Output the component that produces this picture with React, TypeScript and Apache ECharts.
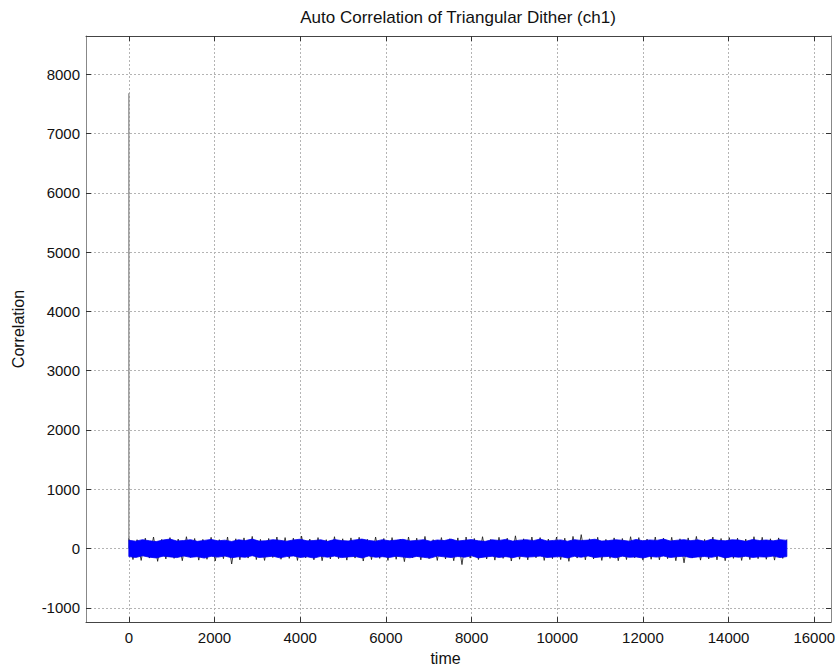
import React, { useEffect, useRef } from "react";
import * as echarts from "echarts";

const titleText = "Auto Correlation of Triangular Dither (ch1)";
const xName = "time";
const yName = "Correlation";
const xTicks = [0, 2000, 4000, 6000, 8000, 10000, 12000, 14000, 16000];
const yTicks = [-1000, 0, 1000, 2000, 3000, 4000, 5000, 6000, 7000, 8000];
const xRange = [-1000, 16390];
const yRange = [-1240, 8645];

// lag-0 peak of the autocorrelation
const peakLags = [0, 0];
const peakValues = [0, 7680];

// envelope of the blue noise band, one value every envelopeStep lags
const envelopeStep = 160;
const blueUpper = [
  140, 125, 150, 132, 118, 145, 160, 128, 136, 150, 122, 138, 155, 130, 142, 120, 148, 135, 160, 126,
  132, 150, 140, 124, 145, 158, 130, 136, 148, 122, 152, 135, 128, 146, 160, 138, 125, 150, 132, 143,
  156, 129, 138, 150, 124, 145, 135, 160, 128, 140, 152, 131, 122, 148, 137, 155, 126, 142, 150, 134,
  160, 129, 138, 146, 124, 151, 136, 143, 158, 127, 135, 149, 140, 125, 154, 132, 145, 138, 160, 128,
  141, 150, 134, 147, 125, 156, 139, 131, 148, 143, 122, 153, 136, 145, 130, 150, 138,
];
const blueLower = [
  -135, -150, -122, -145, -158, -128, -140, -152, -125, -148, -136, -160, -130, -144, -126, -155, -138, -147, -120, -150,
  -142, -128, -156, -135, -124, -149, -138, -160, -131, -145, -127, -152, -140, -133, -158, -125, -146, -137, -150, -129,
  -143, -155, -132, -148, -160, -126, -139, -151, -134, -145, -122, -157, -141, -130, -149, -136, -153, -128, -144, -138,
  -127, -150, -142, -135, -158, -131, -146, -124, -152, -139, -133, -155, -128, -147, -140, -160, -132, -144, -126, -151,
  -137, -129, -154, -141, -134, -148, -125, -157, -136, -145, -130, -150, -139, -143, -127, -152, -135,
];

// black trace behind the blue band, one value every blackStep lags
const blackStep = 96;
const blackTrace = [
  170, -185, 150, -200, 175, -160, 195, -215, 155, -175, 185, -165, 160, -205, 200, -150, 170, -195, 155, -180,
  190, -210, 150, -170, 195, -260, 165, -190, 180, -160, 205, -185, 155, -200, 170, -150, 195, -180, 185, -165,
  175, -200, 210, -155, 160, -190, 185, -205, 150, -175, 200, -170, 165, -195, 180, -160, 190, -210, 155, -185,
  195, -165, 170, -200, 185, -180, 160, -220, 195, -155, 175, -190, 205, -170, 150, -200, 185, -175, 165, -205,
  180, -270, 195, -160, 170, -185, 200, -175, 155, -195, 190, -165, 175, -210, 215, -180, 165, -190, 195, -155,
  185, -200, 160, -170, 195, -185, 175, -215, 205, -160, 235, -190, 165, -175, 190, -200, 155, -165, 180, -205,
  170, -185, 200, -155, 185, -195, 160, -180, 195, -190, 175, -170, 190, -205, 165, -240, 180, -160, 205, -195,
  155, -175, 195, -190, 170, -205, 185, -165, 175, -200, 160, -185, 200, -170, 190, -180, 165, -195, 180, -165,
  155,
];

const FONT = "'Liberation Sans', Arial, Helvetica, sans-serif";
const plain = (v: number) => String(v);

export default function App() {
  const ref = useRef<HTMLDivElement>(null);
  useEffect(() => {
    if (!ref.current) return;
    const chart = echarts.init(ref.current, undefined, { renderer: "svg" });

    const upperPts = blueUpper.map((v, i) => [i * envelopeStep, v]);
    const lowerPts = blueLower.map((v, i) => [i * envelopeStep, v]);
    const blackPts = blackTrace.map((v, i) => [i * blackStep, v]);
    const peakPts = peakLags.map((x, i) => [x, peakValues[i]]);

    const xAxisBase = {
      type: "value" as const,
      min: xRange[0],
      max: xRange[1],
      splitNumber: 8,
    };
    const yAxisBase = {
      type: "value" as const,
      min: yRange[0],
      max: yRange[1],
      splitNumber: 10,
    };
    const gridLine = { show: true, lineStyle: { type: [2, 2], color: "#b4b4b4", width: 1 } };

    chart.setOption({
      animation: false,
      backgroundColor: "#ffffff",
      textStyle: { fontFamily: FONT },
      grid: { left: 86, top: 36, right: 9, bottom: 48, containLabel: false },
      graphic: [
        {
          type: "text",
          x: 458,
          y: 17,
          style: {
            text: titleText,
            fill: "#111",
            font: `17px ${FONT}`,
            textAlign: "center",
            textVerticalAlign: "middle",
          },
        },
      ],
      xAxis: [
        {
          ...xAxisBase,
          position: "bottom",
          name: xName,
          nameLocation: "middle",
          nameGap: 26,
          nameTextStyle: { fontSize: 16, color: "#111", fontFamily: FONT, padding: [0, 26, 0, 0] },
          axisLine: { show: true, onZero: false, lineStyle: { color: "#444", width: 1 } },
          axisTick: { show: true, inside: true, length: 5, customValues: xTicks, lineStyle: { color: "#333" } },
          axisLabel: { show: true, customValues: xTicks, formatter: plain, fontSize: 15, color: "#111", margin: 8, fontFamily: FONT },
          splitLine: gridLine,
        },
        {
          ...xAxisBase,
          position: "top",
          axisLine: { show: true, onZero: false, lineStyle: { color: "#444", width: 1 } },
          axisTick: { show: true, inside: true, length: 5, customValues: xTicks, lineStyle: { color: "#333" } },
          axisLabel: { show: false },
          splitLine: { show: false },
        },
      ],
      yAxis: [
        {
          ...yAxisBase,
          position: "left",
          name: yName,
          nameLocation: "middle",
          nameGap: 60,
          nameTextStyle: { fontSize: 16, color: "#111", fontFamily: FONT },
          axisLine: { show: true, onZero: false, lineStyle: { color: "#888", width: 1 } },
          axisTick: { show: true, inside: true, length: 5, customValues: yTicks, lineStyle: { color: "#333" } },
          axisLabel: { show: true, customValues: yTicks, formatter: plain, fontSize: 15, color: "#111", margin: 6, fontFamily: FONT },
          splitLine: gridLine,
        },
        {
          ...yAxisBase,
          position: "right",
          axisLine: { show: true, onZero: false, lineStyle: { color: "#888", width: 1 } },
          axisTick: { show: true, inside: true, length: 5, customValues: yTicks, lineStyle: { color: "#333" } },
          axisLabel: { show: false },
          splitLine: { show: false },
        },
      ],
      series: [
        {
          name: "peak",
          type: "line",
          data: peakPts,
          showSymbol: false,
          lineStyle: { color: "#8c8c8c", width: 1.3 },
          z: 2,
        },
        {
          name: "black",
          type: "line",
          data: blackPts,
          showSymbol: false,
          lineStyle: { color: "#111", width: 0.8 },
          z: 3,
        },
        {
          name: "band",
          type: "custom",
          data: [[0, 0]],
          z: 4,
          renderItem: (_params: any, api: any) => {
            const pts = [
              ...upperPts.map((p) => api.coord(p)),
              ...lowerPts
                .slice()
                .reverse()
                .map((p) => api.coord(p)),
            ];
            return {
              type: "polygon",
              shape: { points: pts },
              style: { fill: "#0000ff", stroke: "#0000ee", lineWidth: 0.8 },
            };
          },
        },
      ],
    });
    return () => chart.dispose();
  }, []);

  return (
    <div
      ref={ref}
      style={{ position: "absolute", left: 0, top: 0, width: 840, height: 671 }}
    />
  );
}
